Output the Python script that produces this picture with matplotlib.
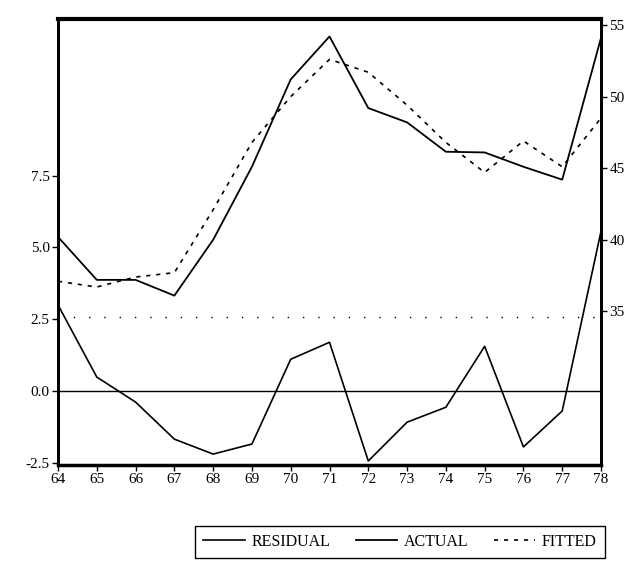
import matplotlib
matplotlib.use('Agg')
import matplotlib.pyplot as plt
import numpy as np

plt.rcParams['font.family'] = ['Liberation Serif', 'DejaVu Serif']

YEARS = list(range(1964, 1979))
YEAR_LABELS = ['%02d' % (y % 100) for y in YEARS]

ACTUAL = [40.2, 37.2, 37.2, 36.1, 40.0, 45.1, 51.2, 54.2, 49.2, 48.2,
          46.15, 46.1, 45.1, 44.2, 54.1]
FITTED = [37.1, 36.7, 37.4, 37.7, 42.1, 46.8, 50.0, 52.6, 51.7, 49.4,
          46.8, 44.7, 46.9, 45.1, 48.5]
RESIDUAL = [3.0, 0.49, -0.38, -1.67, -2.19, -1.84, 1.11, 1.70, -2.43, -1.08,
            -0.56, 1.56, -1.94, -0.69, 5.56]
SE = 2.57  # std. error band of the residuals

LEFT_TICKS = [-2.5, 0.0, 2.5, 5.0, 7.5]
RIGHT_TICKS = [35, 40, 45, 50, 55]

fig = plt.figure(figsize=(6.36, 5.75), dpi=100)
ax = fig.add_axes([58/636, 1 - 465/575, (601-58)/636, (465-19)/575])
ax2 = ax.twinx()

x = np.array(YEARS)

# residual on the left scale
l_res, = ax.plot(x, RESIDUAL, color='black', lw=1.2)
ax.axhline(0.0, color='black', lw=1.0)
ax.axhline(SE, color='black', lw=1.0, ls=(0, (1, 10)))
ax.axhline(-SE, color='black', lw=1.0, ls=(0, (1, 10)))
ax.set_ylim(-2.57, 12.95)
ax.set_yticks(LEFT_TICKS)
ax.set_yticklabels(['%.1f' % v for v in LEFT_TICKS])

# actual / fitted on the right scale
l_act, = ax2.plot(x, ACTUAL, color='black', lw=1.3)
l_fit, = ax2.plot(x, FITTED, color='black', lw=1.2, ls=(0, (2.5, 3.5)))
ax2.set_ylim(24.27, 55.42)
ax2.set_yticks(RIGHT_TICKS)
ax2.set_yticklabels(['%d' % v for v in RIGHT_TICKS])

ax.set_xlim(YEARS[0], YEARS[-1])
ax.set_xticks(YEARS)
ax.set_xticklabels(YEAR_LABELS)

for a in (ax, ax2):
    a.tick_params(direction='out', length=4, width=1, labelsize=11,
                  pad=2, color='black')
    for s in a.spines.values():
        s.set_linewidth(2)
ax.spines['top'].set_linewidth(3)
ax.spines['bottom'].set_linewidth(2.5)

fig.legend([l_res, l_act, l_fit], ['RESIDUAL', 'ACTUAL', 'FITTED'],
           loc='center', bbox_to_anchor=(400/636, 1 - 542/575), ncol=3,
           fontsize=11.5, frameon=True, fancybox=False, edgecolor='black',
           handlelength=2.6, columnspacing=1.6, handletextpad=0.4,
           borderpad=0.5, framealpha=1)

fig.savefig('out.png', dpi=100)
